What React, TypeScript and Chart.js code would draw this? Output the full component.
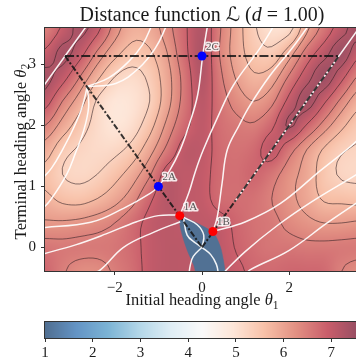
import React, { useEffect, useRef } from "react";
import { Chart, registerables } from "chart.js";

Chart.register(...registerables);

const SERIF = '"Liberation Serif", "DejaVu Serif", serif';

// ---------- data ----------
const THETA1_NODES = [-3.6, -3.2, -2.8, -2.4, -2.0, -1.6, -1.2, -0.8, -0.4, 0, 0.4, 0.8, 1.2, 1.6, 2.0, 2.4, 2.8, 3.2, 3.6];
const THETA2_NODES = [3.6, 3.2, 2.8, 2.4, 2.0, 1.6, 1.2, 0.8, 0.4, 0.0, -0.4];

const DIST_Y36 = [6.45, 6.95, 7.35, 7.0, 6.3, 5.85, 5.9, 6.3, 6.8, 7.2, 6.5, 5.9, 5.35, 5.05, 5.15, 6.0, 6.6, 7.1, 7.45];
const DIST_Y32 = [6.95, 7.35, 7.05, 6.4, 5.85, 5.55, 5.65, 6.1, 6.75, 7.25, 6.45, 5.9, 5.5, 5.4, 5.9, 6.6, 7.1, 7.45, 7.0];
const DIST_Y28 = [7.35, 7.05, 6.45, 5.8, 5.3, 5.15, 5.4, 5.95, 6.6, 7.2, 6.55, 6.05, 5.75, 5.9, 6.5, 7.1, 7.45, 7.0, 6.4];
const DIST_Y24 = [7.05, 6.45, 5.9, 5.25, 4.95, 5.0, 5.3, 5.95, 6.6, 7.1, 6.65, 6.3, 6.1, 6.35, 7.0, 7.4, 6.95, 6.35, 5.85];
const DIST_Y20 = [6.45, 5.95, 5.5, 5.15, 4.95, 5.1, 5.55, 6.2, 6.75, 7.05, 6.7, 6.55, 6.5, 6.8, 7.3, 6.85, 6.3, 5.8, 5.45];
const DIST_Y16 = [5.9, 5.45, 5.25, 5.15, 5.2, 5.45, 5.95, 6.55, 7.05, 7.05, 6.75, 6.65, 6.75, 7.05, 6.6, 6.1, 5.65, 5.35, 5.25];
const DIST_Y12 = [5.6, 5.3, 5.2, 5.3, 5.55, 5.9, 6.4, 7.05, 7.05, 7.0, 6.75, 6.7, 6.8, 6.6, 6.25, 5.95, 5.5, 5.25, 5.2];
const DIST_Y08 = [5.8, 5.6, 5.55, 5.7, 5.95, 6.3, 6.8, 7.15, 7.05, 7.0, 6.75, 6.7, 6.65, 6.45, 6.2, 5.95, 5.65, 5.6, 5.55];
const DIST_Y04 = [6.15, 6.15, 6.2, 6.3, 6.45, 6.7, 7.0, 7.1, 7.05, 7.05, 7.0, 6.8, 6.65, 6.55, 6.35, 6.2, 6.1, 6.1, 6.15];
const DIST_Y00 = [6.6, 6.55, 6.55, 6.55, 6.6, 6.75, 7.0, 7.1, 7.1, 7.1, 7.05, 6.85, 6.7, 6.6, 6.6, 6.55, 6.55, 6.55, 6.55];
const DIST_YM04 = [6.8, 6.5, 6.3, 6.3, 6.5, 6.7, 7.0, 7.1, 7.1, 7.1, 7.05, 6.95, 6.8, 6.75, 6.8, 6.8, 6.75, 6.45, 6.3];
const DIST_ROWS = [DIST_Y36, DIST_Y32, DIST_Y28, DIST_Y24, DIST_Y20, DIST_Y16, DIST_Y12, DIST_Y08, DIST_Y04, DIST_Y00, DIST_YM04];

const SHORT_PATH_VALUE = 1.05; // value inside the blue lens region
const SHORT_PATH_REGION: [number, number][] = [
  [-0.52, 0.53], [-0.27, 0.45], [0.04, 0.34], [0.27, 0.23], [0.42, 0.01], [0.49, -0.21], [0.53, -0.39], [0.56, -0.5],
  [-0.12, -0.5], [-0.15, -0.4], [-0.19, -0.29], [-0.31, -0.1], [-0.42, 0.12], [-0.5, 0.34], [-0.52, 0.53],
];

const CONTOUR_LEVELS = [5.3, 5.7, 6.1, 6.45, 6.88, 7.25];

const WHITE_CURVES: [number, number][][] = [
  [[-3.7, 2.58], [-2.58, 3.7]],
  [[0.75, 0.75], [3.7, 3.7]],
  [[0.14, 3.7], [0.015, 3.14], [-0.1, 2.5], [-0.3, 2.0], [-0.5, 1.6], [-0.75, 1.25], [-1.0, 1.0], [-1.18, 0.89], [-1.8, 0.64], [-2.55, 0.41], [-3.7, 0.32]],
  [[-0.51, 0.52], [-0.3, 0.9], [-0.15, 1.25], [0.03, 1.6], [0.35, 2.12], [0.72, 2.66], [1.33, 3.27], [1.7, 3.7]],
  [[0.25, 0.26], [0.35, 0.5], [0.46, 1.05], [0.58, 1.6], [0.85, 2.0], [1.1, 2.33], [1.56, 2.82], [2.1, 3.3], [2.55, 3.75]],
  [[0.25, 0.26], [1.0, 0.42], [1.8, 0.72], [2.7, 1.25], [3.4, 1.65], [3.7, 1.85]],
  [[0.45, -0.45], [0.99, -0.07], [1.75, 0.37], [2.52, 0.75], [3.53, 1.19], [3.7, 1.28]],
  [[1.0, -0.45], [1.1, -0.37], [2.0, -0.05], [2.87, 0.4], [3.53, 0.72], [3.7, 0.8]],
  [[-2.63, 2.64], [-1.98, 2.69], [-1.45, 2.94], [-1.07, 3.27], [-0.84, 3.6], [-0.8, 3.7]],
  [[-2.63, 2.64], [-2.14, 2.78], [-1.68, 3.05], [-1.37, 3.32], [-1.18, 3.6], [-1.15, 3.7]],
  [[-2.63, 2.64], [-2.75, 2.3], [-2.95, 1.95], [-3.2, 1.6], [-3.45, 1.3], [-3.7, 1.1]],
  [[-2.63, 2.64], [-2.6, 2.3], [-2.72, 1.9], [-2.9, 1.55], [-3.1, 1.2], [-3.47, 0.78], [-3.7, 0.6]],
  [[-0.51, 0.53], [-1.0, 0.52], [-1.5, 0.42], [-2.2, 0.22], [-2.9, 0.04], [-3.7, -0.12]],
  [[-2.6, -0.45], [-2.33, -0.37], [-1.8, 0.0], [-1.1, 0.25], [-0.5, 0.42]],
  [[-0.42, 0.47], [-0.34, 0.2], [-0.15, 0.07], [0, 0]],
  [[-0.42, 0.49], [-0.11, 0.37], [0.04, 0.2], [0, 0]],
  [[0, 0], [-0.2, -0.15], [-0.27, -0.3], [-0.3, -0.45]],
  [[0, 0], [0.2, -0.12], [0.33, -0.28], [0.38, -0.45]],
];

const REF_LINES: { pts: [number, number][]; dash: number[]; width: number }[] = [
  { pts: [[-3.14, 3.14], [3.14, 3.14]], dash: [9, 2.5, 2.2, 2.5], width: 2 },
  { pts: [[-3.14, 3.14], [0, 0]], dash: [6, 2, 2, 2], width: 2 },
  { pts: [[0, 0], [3.14, 3.14]], dash: [6, 2, 2, 2], width: 2 },
];

const CRIT_LABELS = ["2C", "2A", "1A", "1B"];
const CRIT_THETA1 = [0.0, -1.0, -0.51, 0.25];
const CRIT_THETA2 = [3.14, 1.0, 0.52, 0.26];
const CRIT_COLORS = ["#0000ff", "#0000ff", "#ff0000", "#ff0000"];

const X_MIN = -3.6, X_MAX = 3.6;
const Y_MIN = -0.389, Y_MAX = 3.6;
const X_TICKS = [-2, 0, 2];
const Y_TICKS = [0, 1, 2, 3];
const CBAR_MIN = 1, CBAR_MAX = 7.58;
const CBAR_TICKS = [1, 2, 3, 4, 5, 6, 7];

// ---------- colour map (RdBu_r at alpha 0.7 over white) ----------
const RDBU_R = ["#053061", "#2166ac", "#4393c3", "#92c5de", "#d1e5f0", "#f7f7f7", "#fddbc7", "#f4a582", "#d6604d", "#b2182b", "#67001f"];
const CMAP_ALPHA = 0.7;
function hexRGB(h: string) {
  return [parseInt(h.slice(1, 3), 16), parseInt(h.slice(3, 5), 16), parseInt(h.slice(5, 7), 16)];
}
const RDBU_RGB = RDBU_R.map(hexRGB);
function cmapRGB(v: number) {
  let t = (v - CBAR_MIN) / (CBAR_MAX - CBAR_MIN);
  t = Math.max(0, Math.min(1, t));
  const f = t * (RDBU_RGB.length - 1);
  const i = Math.min(RDBU_RGB.length - 2, Math.floor(f));
  const u = f - i;
  const a = RDBU_RGB[i], b = RDBU_RGB[i + 1];
  return [0, 1, 2].map((k) => Math.round(255 * (1 - CMAP_ALPHA) + (a[k] + (b[k] - a[k]) * u) * CMAP_ALPHA));
}
function cmapCss(v: number) {
  const c = cmapRGB(v);
  return `rgb(${c[0]},${c[1]},${c[2]})`;
}

function fmtTick(v: number) {
  return v < 0 ? "\u2212" + Math.abs(v) : String(v);
}

// ---------- smooth rendering grid (Catmull-Rom resampling of the read grid) ----------
const FINE = 4;
function cr(p0: number, p1: number, p2: number, p3: number, t: number) {
  return p1 + 0.5 * t * (p2 - p0 + t * (2 * p0 - 5 * p1 + 4 * p2 - p3 + t * (3 * (p1 - p2) + p3 - p0)));
}
function buildFine() {
  const nx = THETA1_NODES.length, ny = THETA2_NODES.length;
  const g = (j: number, i: number) => DIST_ROWS[Math.max(0, Math.min(ny - 1, j))][Math.max(0, Math.min(nx - 1, i))];
  const fx: number[] = [], fy: number[] = [], fz: number[][] = [];
  const mx = (nx - 1) * FINE + 1, my = (ny - 1) * FINE + 1;
  for (let a = 0; a < mx; a++) fx.push(THETA1_NODES[0] + ((THETA1_NODES[nx - 1] - THETA1_NODES[0]) * a) / (mx - 1));
  for (let b = 0; b < my; b++) fy.push(THETA2_NODES[0] + ((THETA2_NODES[ny - 1] - THETA2_NODES[0]) * b) / (my - 1));
  for (let b = 0; b < my; b++) {
    const row: number[] = [];
    const fj = b / FINE, j = Math.min(ny - 2, Math.floor(fj)), v = fj - j;
    for (let a = 0; a < mx; a++) {
      const fi = a / FINE, i = Math.min(nx - 2, Math.floor(fi)), u = fi - i;
      const r = [-1, 0, 1, 2].map((dj) => cr(g(j + dj, i - 1), g(j + dj, i), g(j + dj, i + 1), g(j + dj, i + 2), u));
      row.push(cr(r[0], r[1], r[2], r[3], v));
    }
    fz.push(row);
  }
  return { fx, fy, fz };
}

function contourSegments(fx: number[], fy: number[], fz: number[][], level: number) {
  const segs: [number, number][][] = [];
  for (let j = 0; j < fy.length - 1; j++) {
    for (let i = 0; i < fx.length - 1; i++) {
      const c = [
        [fx[i], fy[j], fz[j][i]],
        [fx[i + 1], fy[j], fz[j][i + 1]],
        [fx[i + 1], fy[j + 1], fz[j + 1][i + 1]],
        [fx[i], fy[j + 1], fz[j + 1][i]],
      ];
      const pts: [number, number][] = [];
      for (let k = 0; k < 4; k++) {
        const a = c[k], b = c[(k + 1) % 4];
        if ((a[2] < level) !== (b[2] < level)) {
          const t = (level - a[2]) / (b[2] - a[2]);
          pts.push([a[0] + t * (b[0] - a[0]), a[1] + t * (b[1] - a[1])]);
        }
      }
      if (pts.length === 2) segs.push([pts[0], pts[1]]);
      else if (pts.length === 4) {
        const mid = (c[0][2] + c[1][2] + c[2][2] + c[3][2]) / 4;
        if ((mid < level) === (c[0][2] < level)) {
          segs.push([pts[0], pts[1]]);
          segs.push([pts[2], pts[3]]);
        } else {
          segs.push([pts[3], pts[0]]);
          segs.push([pts[1], pts[2]]);
        }
      }
    }
  }
  return segs;
}

// ---------- rich text helper ----------
type Seg = { t: string; it?: boolean; sub?: boolean; fam?: string };
function segFont(s: Seg, size: number) {
  const sz = s.sub ? size * 0.7 : size;
  return `${s.it ? "italic " : ""}${sz}px ${s.fam ?? SERIF}`;
}
function measureSegs(ctx: CanvasRenderingContext2D, segs: Seg[], size: number) {
  let w = 0;
  for (const s of segs) {
    ctx.font = segFont(s, size);
    w += ctx.measureText(s.t).width;
  }
  return w;
}
function drawSegs(ctx: CanvasRenderingContext2D, segs: Seg[], targetW: number, baseSize: number, cx: number, by: number, rot: number) {
  const w0 = measureSegs(ctx, segs, baseSize);
  const size = (baseSize * targetW) / w0;
  const w = measureSegs(ctx, segs, size);
  ctx.save();
  ctx.translate(cx, by);
  ctx.rotate(rot);
  ctx.fillStyle = "#1a1a1a";
  ctx.textBaseline = "alphabetic";
  ctx.textAlign = "left";
  let xx = -w / 2;
  for (const s of segs) {
    ctx.font = segFont(s, size);
    ctx.fillText(s.t, xx, s.sub ? size * 0.22 : 0);
    xx += ctx.measureText(s.t).width;
  }
  ctx.restore();
}

const TITLE_SEGS: Seg[] = [
  { t: "Distance function " },
  { t: "\u2112", fam: '"DejaVu Serif", "DejaVu Sans", serif' },
  { t: " (" },
  { t: "d", it: true },
  { t: " = 1.00)" },
];
const XLABEL_SEGS: Seg[] = [{ t: "Initial heading angle " }, { t: "\u03b8", it: true }, { t: "1", sub: true }];
const YLABEL_SEGS: Seg[] = [{ t: "Terminal heading angle " }, { t: "\u03b8", it: true }, { t: "2", sub: true }];

// ---------- plugins ----------
const heatmapPlugin = {
  id: "heatmap",
  beforeDatasetsDraw(chart: any) {
    const { ctx, chartArea, scales } = chart;
    const xs = scales.x, ys = scales.y;
    const { fx, fy, fz } = buildFine();
    const nx = fx.length, ny = fy.length;
    const off = document.createElement("canvas");
    off.width = nx;
    off.height = ny;
    const octx = off.getContext("2d")!;
    const img = octx.createImageData(nx, ny);
    for (let j = 0; j < ny; j++) {
      for (let i = 0; i < nx; i++) {
        const c = cmapRGB(fz[j][i]);
        const p = (j * nx + i) * 4;
        img.data[p] = c[0];
        img.data[p + 1] = c[1];
        img.data[p + 2] = c[2];
        img.data[p + 3] = 255;
      }
    }
    octx.putImageData(img, 0, 0);
    const hx = (fx[1] - fx[0]) / 2;
    const hy = (fy[0] - fy[1]) / 2;
    const left = xs.getPixelForValue(fx[0] - hx);
    const right = xs.getPixelForValue(fx[nx - 1] + hx);
    const top = ys.getPixelForValue(fy[0] + hy);
    const bottom = ys.getPixelForValue(fy[ny - 1] - hy);
    ctx.save();
    ctx.beginPath();
    ctx.rect(chartArea.left, chartArea.top, chartArea.right - chartArea.left, chartArea.bottom - chartArea.top);
    ctx.clip();
    ctx.imageSmoothingEnabled = true;
    (ctx as any).imageSmoothingQuality = "high";
    ctx.drawImage(off, left, top, right - left, bottom - top);
    ctx.strokeStyle = "rgba(45,30,35,0.68)";
    ctx.lineWidth = 0.85;
    for (const lv of CONTOUR_LEVELS) {
      ctx.beginPath();
      for (const s of contourSegments(fx, fy, fz, lv)) {
        ctx.moveTo(xs.getPixelForValue(s[0][0]), ys.getPixelForValue(s[0][1]));
        ctx.lineTo(xs.getPixelForValue(s[1][0]), ys.getPixelForValue(s[1][1]));
      }
      ctx.stroke();
    }
    ctx.restore();
  },
};

const overlayPlugin = {
  id: "overlay",
  afterDatasetsDraw(chart: any) {
    const { ctx, scales } = chart;
    ctx.save();
    ctx.font = `11px ${SERIF}`;
    ctx.textAlign = "left";
    ctx.textBaseline = "middle";
    ctx.lineJoin = "round";
    for (let k = 0; k < CRIT_LABELS.length; k++) {
      const px = scales.x.getPixelForValue(CRIT_THETA1[k]) + 4;
      const py = scales.y.getPixelForValue(CRIT_THETA2[k]) - 9;
      ctx.strokeStyle = "rgba(255,255,255,0.85)";
      ctx.lineWidth = 3;
      ctx.strokeText(CRIT_LABELS[k], px, py);
      ctx.fillStyle = "#555";
      ctx.fillText(CRIT_LABELS[k], px, py);
    }
    ctx.restore();
  },
  afterDraw(chart: any) {
    const { ctx, chartArea } = chart;
    ctx.save();
    ctx.strokeStyle = "#333";
    ctx.lineWidth = 1;
    ctx.strokeRect(Math.round(chartArea.left) - 0.5, Math.round(chartArea.top) - 0.5, chartArea.right - chartArea.left + 1, chartArea.bottom - chartArea.top + 1);
    ctx.restore();
    const cx = (chartArea.left + chartArea.right) / 2;
    drawSegs(ctx, TITLE_SEGS, 245, 18, cx, 21, 0);
    drawSegs(ctx, XLABEL_SEGS, 153, 15, cx, 305, 0);
    drawSegs(ctx, YLABEL_SEGS, 176, 15, 25.5, (chartArea.top + chartArea.bottom) / 2 + 2, -Math.PI / 2);
  },
};

const colorbarPlugin = {
  id: "colorbar",
  beforeDatasetsDraw(chart: any) {
    const { ctx, chartArea, scales } = chart;
    ctx.save();
    for (let px = Math.floor(chartArea.left); px < Math.ceil(chartArea.right); px++) {
      ctx.fillStyle = cmapCss(scales.x.getValueForPixel(px + 0.5));
      ctx.fillRect(px, chartArea.top, 1, chartArea.bottom - chartArea.top);
    }
    ctx.strokeStyle = "#333";
    ctx.lineWidth = 1;
    ctx.strokeRect(Math.round(chartArea.left) - 0.5, Math.round(chartArea.top) - 0.5, chartArea.right - chartArea.left + 1, chartArea.bottom - chartArea.top + 1);
    ctx.restore();
  },
};

function axisCommon(ticks: number[]) {
  return {
    type: "linear" as const,
    afterBuildTicks: (s: any) => {
      s.ticks = ticks.map((v) => ({ value: v }));
    },
    grid: { drawOnChartArea: false, drawTicks: true, tickLength: 4, color: "#333", lineWidth: 1 },
    border: { display: false },
    ticks: {
      font: { family: SERIF, size: 15 },
      color: "#1a1a1a",
      maxRotation: 0,
      autoSkip: false,
      callback: (v: any) => fmtTick(Number(v)),
    },
  };
}

export default function App() {
  const mainRef = useRef<HTMLCanvasElement>(null);
  const cbRef = useRef<HTMLCanvasElement>(null);

  useEffect(() => {
    const datasets: any[] = [];
    for (let k = 0; k < CRIT_LABELS.length; k++) {
      datasets.push({
        data: [{ x: CRIT_THETA1[k], y: CRIT_THETA2[k] }],
        pointRadius: 4.5,
        pointBackgroundColor: CRIT_COLORS[k],
        pointBorderColor: CRIT_COLORS[k],
        pointBorderWidth: 0,
        showLine: false,
        order: 0,
      });
    }
    for (const r of REF_LINES) {
      datasets.push({
        data: r.pts.map(([x, y]) => ({ x, y })),
        showLine: true,
        borderColor: "rgba(20,20,20,0.85)",
        borderWidth: r.width,
        borderDash: r.dash,
        pointRadius: 0,
        order: 1,
      });
    }
    for (const c of WHITE_CURVES) {
      datasets.push({
        data: c.map(([x, y]) => ({ x, y })),
        showLine: true,
        borderColor: "rgba(255,255,255,0.92)",
        borderWidth: 1.5,
        pointRadius: 0,
        tension: 0.4,
        order: 2,
      });
    }
    datasets.push({
      data: SHORT_PATH_REGION.map(([x, y]) => ({ x, y })),
      showLine: true,
      fill: "shape",
      backgroundColor: cmapCss(SHORT_PATH_VALUE),
      borderColor: cmapCss(SHORT_PATH_VALUE),
      borderWidth: 0.5,
      pointRadius: 0,
      tension: 0.3,
      order: 3,
    });

    const xAxis: any = axisCommon(X_TICKS);
    xAxis.min = X_MIN;
    xAxis.max = X_MAX;
    xAxis.afterFit = (s: any) => {
      s.height = 86;
    };
    xAxis.ticks.padding = 4;
    const yAxis: any = axisCommon(Y_TICKS);
    yAxis.min = Y_MIN;
    yAxis.max = Y_MAX;
    yAxis.afterFit = (s: any) => {
      s.width = 45;
    };
    yAxis.ticks.padding = 5;

    const main = new Chart(mainRef.current!, {
      type: "scatter",
      data: { datasets },
      options: {
        responsive: false,
        animation: false,
        devicePixelRatio: 1,
        events: [],
        layout: { padding: { top: 28, right: 5, left: 0, bottom: 0 } },
        plugins: { legend: { display: false }, tooltip: { enabled: false }, title: { display: false } },
        scales: { x: xAxis, y: yAxis },
      } as any,
      plugins: [heatmapPlugin, overlayPlugin],
    });

    const cbAxis: any = axisCommon(CBAR_TICKS);
    cbAxis.min = CBAR_MIN;
    cbAxis.max = CBAR_MAX;
    cbAxis.afterFit = (s: any) => {
      s.height = 19;
    };
    cbAxis.ticks.padding = 2;
    const cb = new Chart(cbRef.current!, {
      type: "scatter",
      data: { datasets: [] },
      options: {
        responsive: false,
        animation: false,
        devicePixelRatio: 1,
        events: [],
        layout: { padding: { top: 22, right: 5, left: 45, bottom: 0 } },
        plugins: { legend: { display: false }, tooltip: { enabled: false } },
        scales: { x: cbAxis, y: { display: false, min: 0, max: 1 } },
      } as any,
      plugins: [colorbarPlugin],
    });

    return () => {
      main.destroy();
      cb.destroy();
    };
  }, []);

  return (
    <div style={{ position: "fixed", left: 0, top: 0, width: 356, height: 357, overflow: "hidden", background: "#fff" }}>
      <canvas ref={mainRef} width={364} height={357} style={{ position: "absolute", left: 0, top: 0 }} />
      <canvas ref={cbRef} width={364} height={57} style={{ position: "absolute", left: 0, top: 300 }} />
    </div>
  );
}
